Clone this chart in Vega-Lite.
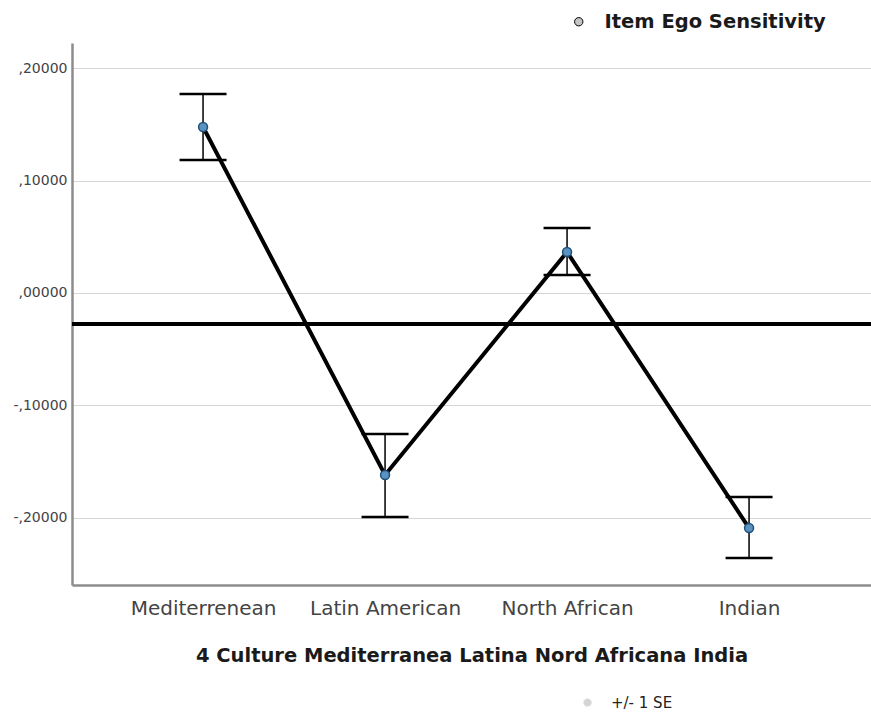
{
  "$schema": "https://vega.github.io/schema/vega-lite/v6.json",
  "autosize": {"type": "none"},
  "width": 799,
  "height": 542,
  "padding": {"left": 72, "top": 43, "right": 0, "bottom": 128},
  "background": "white",
  "config": {"font": "DejaVu Sans", "view": {"stroke": null}},
  "data": {"values": [
    {"culture": "Mediterrenean", "mean": 0.1478, "lo": 0.1184, "hi": 0.1772},
    {"culture": "Latin American", "mean": -0.162, "lo": -0.1995, "hi": -0.1256},
    {"culture": "North African", "mean": 0.0365, "lo": 0.016, "hi": 0.0579},
    {"culture": "Indian", "mean": -0.2093, "lo": -0.236, "hi": -0.1817}
  ]},
  "encoding": {
    "x": {
      "field": "culture", "type": "nominal", "sort": null,
      "scale": {"type": "point", "padding": 0.695, "align": 0.518},
      "axis": {
        "title": "4 Culture Mediterranea Latina Nord Africana India",
        "titleFont": "DejaVu Sans", "titleFontSize": 19.5, "titleFontWeight": "bold", "titleColor": "#1a1a1a",
        "titlePadding": 28,
        "labelFont": "DejaVu Sans", "labelFontSize": 20, "labelColor": "#444444", "labelPadding": 13, "labelAngle": 0,
        "ticks": false, "grid": false,
        "domainColor": "#8c8c8c", "domainWidth": 2.5
      }
    }
  },
  "layer": [
    {
      "mark": {"type": "rule", "color": "black", "strokeWidth": 4},
      "encoding": {
        "x": null,
        "y": {
          "datum": -0.0276, "type": "quantitative",
          "scale": {"domain": [-0.26, 0.2226], "nice": false, "zero": false},
          "axis": {
            "title": null, "values": [-0.2, -0.1, 0, 0.1, 0.2],
            "labelExpr": "(datum.value < 0 ? '-' : '') + replace(format(abs(datum.value), '.5f'), '0.', ',')",
            "labelFont": "DejaVu Sans", "labelFontSize": 14, "labelColor": "#444444", "labelPadding": 5,
            "ticks": false, "grid": true, "gridColor": "#d6d6d6", "gridWidth": 1.2,
            "domainColor": "#8c8c8c", "domainWidth": 2.5
          }
        }
      }
    },
    {
      "mark": {"type": "rule", "color": "black", "strokeWidth": 1.5},
      "encoding": {
        "y": {"field": "lo", "type": "quantitative"},
        "y2": {"field": "hi"},
        "strokeDash": {
          "datum": "+/- 1 SE",
          "scale": {"domain": ["+/- 1 SE"], "range": [[1, 0]]},
          "legend": {
            "title": null, "orient": "none", "legendX": 508, "legendY": 652, "padding": 0,
            "symbolType": "circle", "symbolSize": 60, "symbolFillColor": "#d4d4d4", "symbolStrokeColor": "#e8e8e8", "symbolStrokeWidth": 1,
            "labelOffset": 16, "labelLimit": 400, "labelFont": "DejaVu Sans", "labelFontSize": 15, "labelColor": "#222222"
          }
        }
      }
    },
    {
      "mark": {"type": "tick", "orient": "horizontal", "color": "black", "size": 47, "thickness": 2.5, "opacity": 1},
      "encoding": {"y": {"field": "lo", "type": "quantitative"}}
    },
    {
      "mark": {"type": "tick", "orient": "horizontal", "color": "black", "size": 47, "thickness": 2.5, "opacity": 1},
      "encoding": {"y": {"field": "hi", "type": "quantitative"}}
    },
    {
      "mark": {"type": "line", "strokeWidth": 4},
      "encoding": {
        "y": {"field": "mean", "type": "quantitative"},
        "color": {
          "datum": "Item Ego Sensitivity",
          "scale": {"domain": ["Item Ego Sensitivity"], "range": ["black"]},
          "legend": {
            "title": null, "orient": "none", "legendX": 497, "legendY": -31, "padding": 0,
            "symbolType": "circle", "symbolSize": 70, "symbolFillColor": "#c4c4c4", "symbolStrokeColor": "#e2e2e2", "symbolStrokeWidth": 1,
            "labelOffset": 16, "labelLimit": 400, "labelFont": "DejaVu Sans", "labelFontSize": 19.5, "labelFontWeight": "bold", "labelColor": "#1a1a1a"
          }
        }
      }
    },
    {
      "mark": {"type": "point", "filled": true, "size": 80, "fill": "#5b93c0", "stroke": "#1f4f7a", "strokeWidth": 1.5, "opacity": 1},
      "encoding": {"y": {"field": "mean", "type": "quantitative"}}
    }
  ]
}
